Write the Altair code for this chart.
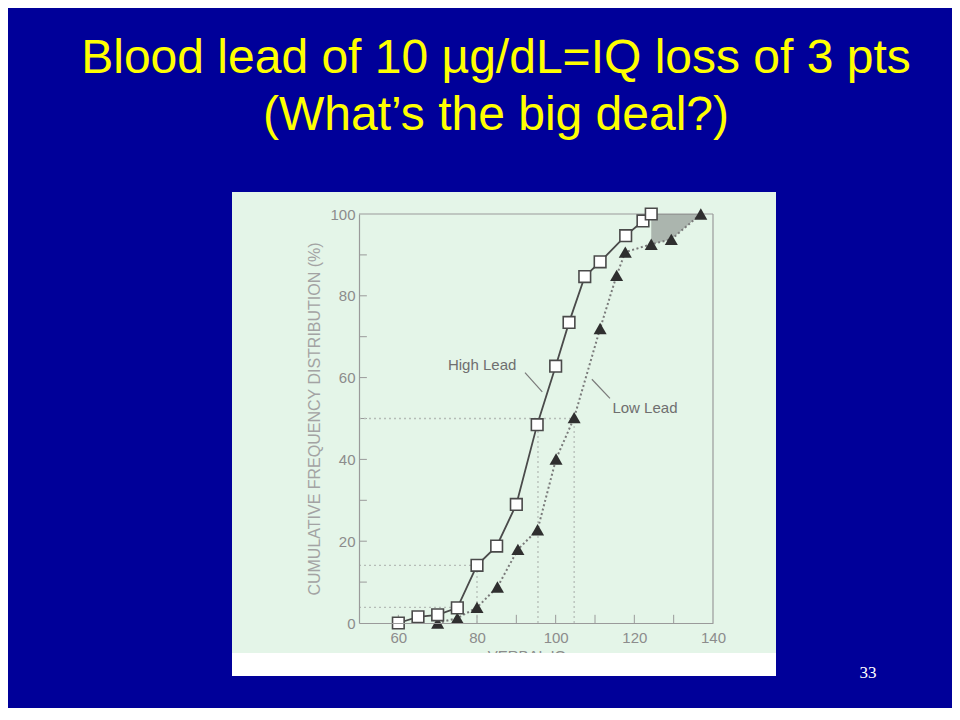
import altair as alt
import pandas as pd

# ---------------- data ----------------
high_iq = [60, 65, 70, 75, 80, 85, 90, 95.3, 100, 103.4, 107.4, 111.3, 117.8, 122.2, 124.3]
high_cum = [0, 1.5, 2, 3.7, 14.1, 18.8, 29, 48.5, 62.8, 73.5, 84.7, 88.3, 94.7, 98.3, 100]

low_iq = [70, 75, 80, 85.2, 90.4, 95.4, 100.1, 104.7, 111.3, 115.5, 117.7, 124.3, 129.4, 136.9]
low_cum = [0, 1.2, 3.8, 8.8, 18, 22.8, 40.1, 50.2, 72, 85, 90.7, 92.6, 93.8, 100]

# shaded gap at the top right (between 100 % and the low-lead curve)
shade_iq = [124.3, 129.4, 136.9]
shade_lo = [92.6, 93.8, 100]
shade_hi = [100, 100, 100]

# dotted guide lines (x, x2, y, y2)
guide_x = [50, 95.5, 104.7, 50, 50, 80]
guide_x2 = [104.7, 95.5, 104.7, 80, 75, 80]
guide_y = [50, 0, 0, 14.1, 3.8, 0]
guide_y2 = [50, 48.5, 50.2, 14.1, 3.8, 14.1]

# annotation labels and leader lines
label_text = ["High Lead", "Low Lead"]
label_x = [81.3, 122.7]
label_y = [63.2, 52.6]
leader_x = [92.2, 109.2]
leader_x2 = [96.6, 113.8]
leader_y = [61.2, 59.6]
leader_y2 = [56.5, 54.9]

x_tick_labels = [60, 80, 100, 120, 140]
y_tick_labels = [0, 20, 40, 60, 80, 100]
x_minor = [60, 70, 80, 90, 100, 110, 120, 130]
y_minor = [10, 20, 30, 40, 50, 60, 70, 80, 90]

title_lines = ["Blood lead of 10 \u00b5g/dL=IQ loss of 3 pts", "(What\u2019s the big deal?)"]
y_title = "CUMULATIVE FREQUENCY DISTRIBUTION (%)"
x_title = "VERBAL IQ"
page_no = "33"

# ---------------- styles ----------------
BLUE = "#000099"
GREEN = "#e4f5e8"
AX = "#9a9a9a"
TXT = "#8c8c8c"
FONT = "Liberation Sans"

W, H = 354, 409
xs = alt.Scale(domain=[50, 140], nice=False, zero=False)
ys = alt.Scale(domain=[0, 100], nice=False, zero=False)

one = pd.DataFrame({"a": [0]})

bg_green = alt.Chart(one).mark_rect(color=GREEN).encode(
    x=alt.value(-127), x2=alt.value(417), y=alt.value(-22), y2=alt.value(439)
)

xtitle = alt.Chart(one).mark_text(
    font=FONT, fontSize=15, color=TXT, baseline="alphabetic", align="center"
).encode(x=alt.datum(92.7, scale=xs), y=alt.value(447), text=alt.value(x_title))

bg_white = alt.Chart(one).mark_rect(color="white").encode(
    x=alt.value(-127), x2=alt.value(417), y=alt.value(439), y2=alt.value(462)
)

title_df = pd.DataFrame({"t": title_lines, "yy": [-141, -84]})
title = alt.Chart(title_df).mark_text(
    font=FONT, fontSize=48, color="#ffff00", align="center", baseline="alphabetic"
).encode(x=alt.value(137), y=alt.Y("yy:Q", scale=None), text="t:N")

page = alt.Chart(one).mark_text(
    font="Liberation Serif", fontSize=17, color="white", align="center", baseline="alphabetic"
).encode(x=alt.value(509), y=alt.value(464), text=alt.value(page_no))

# frame (top and right) drawn as rules over the green panel
frame_top = alt.Chart(one).mark_rule(color=AX, strokeWidth=1.2).encode(
    x=alt.datum(50, scale=xs), x2=alt.datum(140), y=alt.datum(100, scale=ys)
)
frame_right = alt.Chart(one).mark_rule(color=AX, strokeWidth=1.2).encode(
    x=alt.datum(140, scale=xs), y=alt.datum(0, scale=ys), y2=alt.datum(100)
)

# inward ticks
xt = alt.Chart(pd.DataFrame({"v": x_minor})).mark_rule(color=AX, strokeWidth=1).encode(
    x=alt.X("v:Q", scale=xs), y=alt.datum(0, scale=ys), y2=alt.datum(2)
)
yt = alt.Chart(pd.DataFrame({"v": y_minor})).mark_rule(color=AX, strokeWidth=1).encode(
    y=alt.Y("v:Q", scale=ys), x=alt.datum(50, scale=xs), x2=alt.datum(52)
)

guides = alt.Chart(pd.DataFrame({"x": guide_x, "x2": guide_x2, "y": guide_y, "y2": guide_y2})).mark_rule(
    color="#b5bdb7", strokeWidth=1.3, strokeDash=[2, 3]
).encode(x=alt.X("x:Q", scale=xs), x2="x2:Q", y=alt.Y("y:Q", scale=ys), y2="y2:Q")

shade = alt.Chart(pd.DataFrame({"x": shade_iq, "lo": shade_lo, "hi": shade_hi})).mark_area(
    color="#5e5e5e", opacity=0.42
).encode(x=alt.X("x:Q", scale=xs), y=alt.Y("lo:Q", scale=ys), y2="hi:Q")

low_df = pd.DataFrame({"iq": low_iq, "cum": low_cum})
high_df = pd.DataFrame({"iq": high_iq, "cum": high_cum})

low_line = alt.Chart(low_df).mark_line(color="#7a7a7a", strokeWidth=2, strokeDash=[2, 2.5]).encode(
    x=alt.X("iq:Q", scale=xs), y=alt.Y("cum:Q", scale=ys)
)
low_pts = alt.Chart(low_df).mark_point(
    shape="triangle-up", filled=True, color="#2f2f2f", size=170, opacity=1
).encode(x=alt.X("iq:Q", scale=xs), y=alt.Y("cum:Q", scale=ys))

high_line = alt.Chart(high_df).mark_line(color="#4a4a4a", strokeWidth=1.8).encode(
    x=alt.X("iq:Q", scale=xs), y=alt.Y("cum:Q", scale=ys)
)
high_pts = alt.Chart(high_df).mark_point(
    shape="square", filled=True, fill="white", stroke="#4a4a4a", strokeWidth=1.6, size=135, opacity=1
).encode(x=alt.X("iq:Q", scale=xs), y=alt.Y("cum:Q", scale=ys))

leaders = alt.Chart(pd.DataFrame({"x": leader_x, "x2": leader_x2, "y": leader_y, "y2": leader_y2})).mark_rule(
    color="#7a7a7a", strokeWidth=1.2
).encode(x=alt.X("x:Q", scale=xs), x2="x2:Q", y=alt.Y("y:Q", scale=ys), y2="y2:Q")

labels = alt.Chart(pd.DataFrame({"t": label_text, "x": label_x, "y": label_y})).mark_text(
    font=FONT, fontSize=15, color="#6f6f6f", align="center", baseline="middle"
).encode(x=alt.X("x:Q", scale=xs), y=alt.Y("y:Q", scale=ys), text="t:N")

# axes carrier
axes = alt.Chart(pd.DataFrame({"iq": high_iq, "cum": high_cum})).mark_point(opacity=0).encode(
    x=alt.X("iq:Q", scale=xs, axis=alt.Axis(
        values=x_tick_labels, ticks=False, domainColor=AX, domainWidth=1.2, labelColor=TXT,
        labelFont=FONT, labelFontSize=15, labelPadding=7, title=None, grid=False, zindex=1,
        labelFlush=False)),
    y=alt.Y("cum:Q", scale=ys, axis=alt.Axis(
        values=y_tick_labels, ticks=False, domainColor=AX, domainWidth=1.2, labelColor=TXT,
        labelFont=FONT, labelFontSize=15, labelPadding=4, title=y_title, titleFont=FONT,
        titleFontSize=16, titleFontWeight="normal", titleColor="#a3a3a3", titlePadding=7,
        grid=False, zindex=1, labelFlush=False)),
)

chart = alt.layer(
    bg_green, xtitle, bg_white, title, page, axes, frame_top, frame_right, xt, yt,
    guides, shade, low_line, low_pts, high_line, high_pts, leaders, labels
).properties(
    width=W, height=H,
    padding={"left": 351, "top": 206, "right": 239, "bottom": 85},
    autosize=alt.AutoSizeParams(type="none"),
).configure(background=BLUE).configure_view(stroke=None)

chart.save("out.html", embed_options={"renderer": "svg", "actions": False})
